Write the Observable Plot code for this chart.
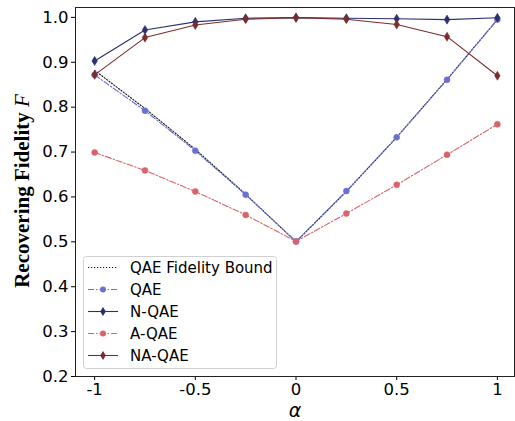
<!DOCTYPE html>
<html>
<head>
<meta charset="utf-8">
<script src="https://cdn.jsdelivr.net/npm/d3@7"></script>
<script src="https://cdn.jsdelivr.net/npm/@observablehq/plot@0.6"></script>
<style>
  html, body { margin: 0; padding: 0; background: #fff; }
  #wrap { position: relative; width: 515px; height: 421px; }
</style>
</head>
<body>
<div id="wrap"></div>
<script>
const alpha = [-1, -0.75, -0.5, -0.25, 0, 0.25, 0.5, 0.75, 1];
const bound = [0.882, 0.797, 0.706, 0.606, 0.500, 0.612, 0.733, 0.862, 0.995];
const qae   = [0.872, 0.792, 0.703, 0.605, 0.501, 0.613, 0.733, 0.861, 0.995];
const nqae  = [0.903, 0.972, 0.990, 0.998, 0.9995, 0.998, 0.997, 0.995, 0.999];
const aqae  = [0.699, 0.659, 0.612, 0.560, 0.501, 0.563, 0.627, 0.694, 0.762];
const naqae = [0.872, 0.955, 0.983, 0.996, 0.999, 0.996, 0.984, 0.957, 0.870];
const yTicks = [0.2, 0.3, 0.4, 0.5, 0.6, 0.7, 0.8, 0.9, 1.0];
const xTicks = [-1, -0.5, 0, 0.5, 1];
const xTickLabels = ["-1", "-0.5", "0", "0.5", "1"];

const series = [
  {name: "QAE Fidelity Bound", values: bound, color: "#111111", dash: "1.2,1.8", marker: null},
  {name: "QAE", values: qae, color: "#6a6fd2", dash: "6,2,1.5,2", marker: "circle"},
  {name: "N-QAE", values: nqae, color: "#2c2f70", dash: null, marker: "diamond"},
  {name: "A-QAE", values: aqae, color: "#d9626b", dash: "6,2,1.5,2", marker: "circle"},
  {name: "NA-QAE", values: naqae, color: "#7b2c2c", dash: null, marker: "diamond"}
];

const thinDiamond = {
  draw(context, size) {
    const r = Math.sqrt(size / Math.PI);
    const h = r * 1.3, w = r * 0.8;
    context.moveTo(0, -h);
    context.lineTo(w, 0);
    context.lineTo(0, h);
    context.lineTo(-w, 0);
    context.closePath();
  }
};

const marks = [];
for (const s of series) {
  const data = alpha.map((a, i) => ({a, v: s.values[i]}));
  marks.push(Plot.line(data, {x: "a", y: "v", stroke: s.color, strokeWidth: 1.1,
    strokeDasharray: s.dash || undefined}));
  if (s.marker) {
    marks.push(Plot.dot(data, {x: "a", y: "v", fill: s.color, stroke: s.color, strokeWidth: 0.5,
      r: s.marker === "circle" ? 3 : 3.5,
      symbol: s.marker === "circle" ? "circle" : thinDiamond}));
  }
}

const xFmt = (d) => xTickLabels[xTicks.indexOf(d)];

const chart = Plot.plot({
  width: 515,
  height: 421,
  marginLeft: 75,
  marginRight: 1,
  marginTop: 7,
  marginBottom: 45,
  style: {fontFamily: "DejaVu Sans", fontSize: "16px", background: "#fff", color: "#000"},
  x: {domain: [-1.095, 1.085], label: null},
  y: {domain: [0.2, 1.022], label: null},
  marks: [
    ...marks,
    Plot.axisX({ticks: xTicks, tickFormat: xFmt, tickSize: 4, tickPadding: 3, label: null, fontSize: 16.5}),
    Plot.axisY({ticks: yTicks, tickFormat: d3.format(".1f"), tickSize: 4, tickPadding: 3, label: null, fontSize: 16.5}),
    Plot.frame({stroke: "#222", strokeWidth: 1})
  ]
});

document.getElementById("wrap").appendChild(chart);
const svg = d3.select(chart);

// axis labels
svg.append("text")
  .attr("x", 295).attr("y", 417)
  .attr("text-anchor", "middle")
  .attr("font-family", "DejaVu Sans")
  .attr("font-style", "italic")
  .attr("font-size", 19)
  .attr("fill", "#000")
  .text("α");

const yl = svg.append("text")
  .attr("transform", "translate(29,191) rotate(-90)")
  .attr("text-anchor", "middle")
  .attr("font-family", "Liberation Serif")
  .attr("font-weight", "bold")
  .attr("font-size", 21)
  .attr("fill", "#000");
yl.append("tspan").text("Recovering Fidelity ");
yl.append("tspan").attr("font-style", "italic").attr("font-weight", "normal").text("F");

// legend
const lg = svg.append("g");
lg.append("rect")
  .attr("x", 83.5).attr("y", 256.5).attr("width", 193).attr("height", 112)
  .attr("rx", 3).attr("fill", "#fff").attr("fill-opacity", 0.85)
  .attr("stroke", "#d0d0d0").attr("stroke-width", 1);
series.forEach((s, i) => {
  const y = 267.5 + i * 22;
  lg.append("line")
    .attr("x1", 88).attr("x2", 118).attr("y1", y).attr("y2", y)
    .attr("stroke", s.color).attr("stroke-width", 1.1)
    .attr("stroke-dasharray", s.dash || null);
  if (s.marker === "circle") {
    lg.append("circle").attr("cx", 103).attr("cy", y).attr("r", 3).attr("fill", s.color);
  } else if (s.marker === "diamond") {
    lg.append("path").attr("d", "M103," + (y - 4.5) + "L105.8," + y + "L103," + (y + 4.5) + "L100.2," + y + "Z").attr("fill", s.color);
  }
  lg.append("text")
    .attr("x", 130).attr("y", y).attr("dy", "0.36em")
    .attr("text-anchor", "start")
    .attr("font-family", "DejaVu Sans").attr("font-size", 15).attr("fill", "#000")
    .text(s.name);
});
</script>
</body>
</html>
